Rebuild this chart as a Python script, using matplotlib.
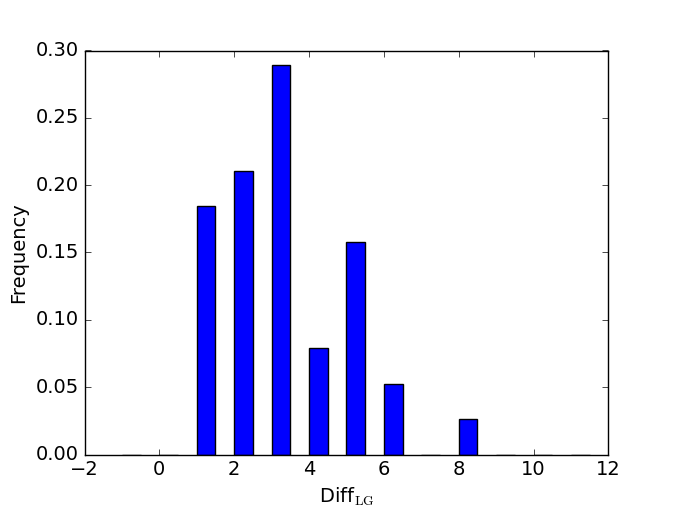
import numpy as np
import matplotlib
matplotlib.use('Agg')
import matplotlib.pyplot as plt

plt.style.use('classic')
plt.rcParams['font.size'] = 14

# histogram of Diff_LG, integer bins, 38 samples
diff_vals = [-1, 0, 1, 2, 3, 4, 5, 6, 7, 8, 9, 10, 11]
freq = [0.0, 0.0, 7/38, 8/38, 11/38, 3/38, 6/38, 2/38, 0.0, 1/38, 0.0, 0.0, 0.0]

fig = plt.figure(figsize=(6.76, 5.05), dpi=100)
ax = fig.add_subplot(111)
ax.bar(diff_vals, freq, width=0.5, align='edge', color='b')
ax.set_xlim(-2, 12)
ax.set_ylim(0, 0.30)
ax.set_xlabel(r'Diff$_{\mathrm{LG}}$')
ax.set_ylabel('Frequency')

fig.savefig('out.png', dpi=100)
